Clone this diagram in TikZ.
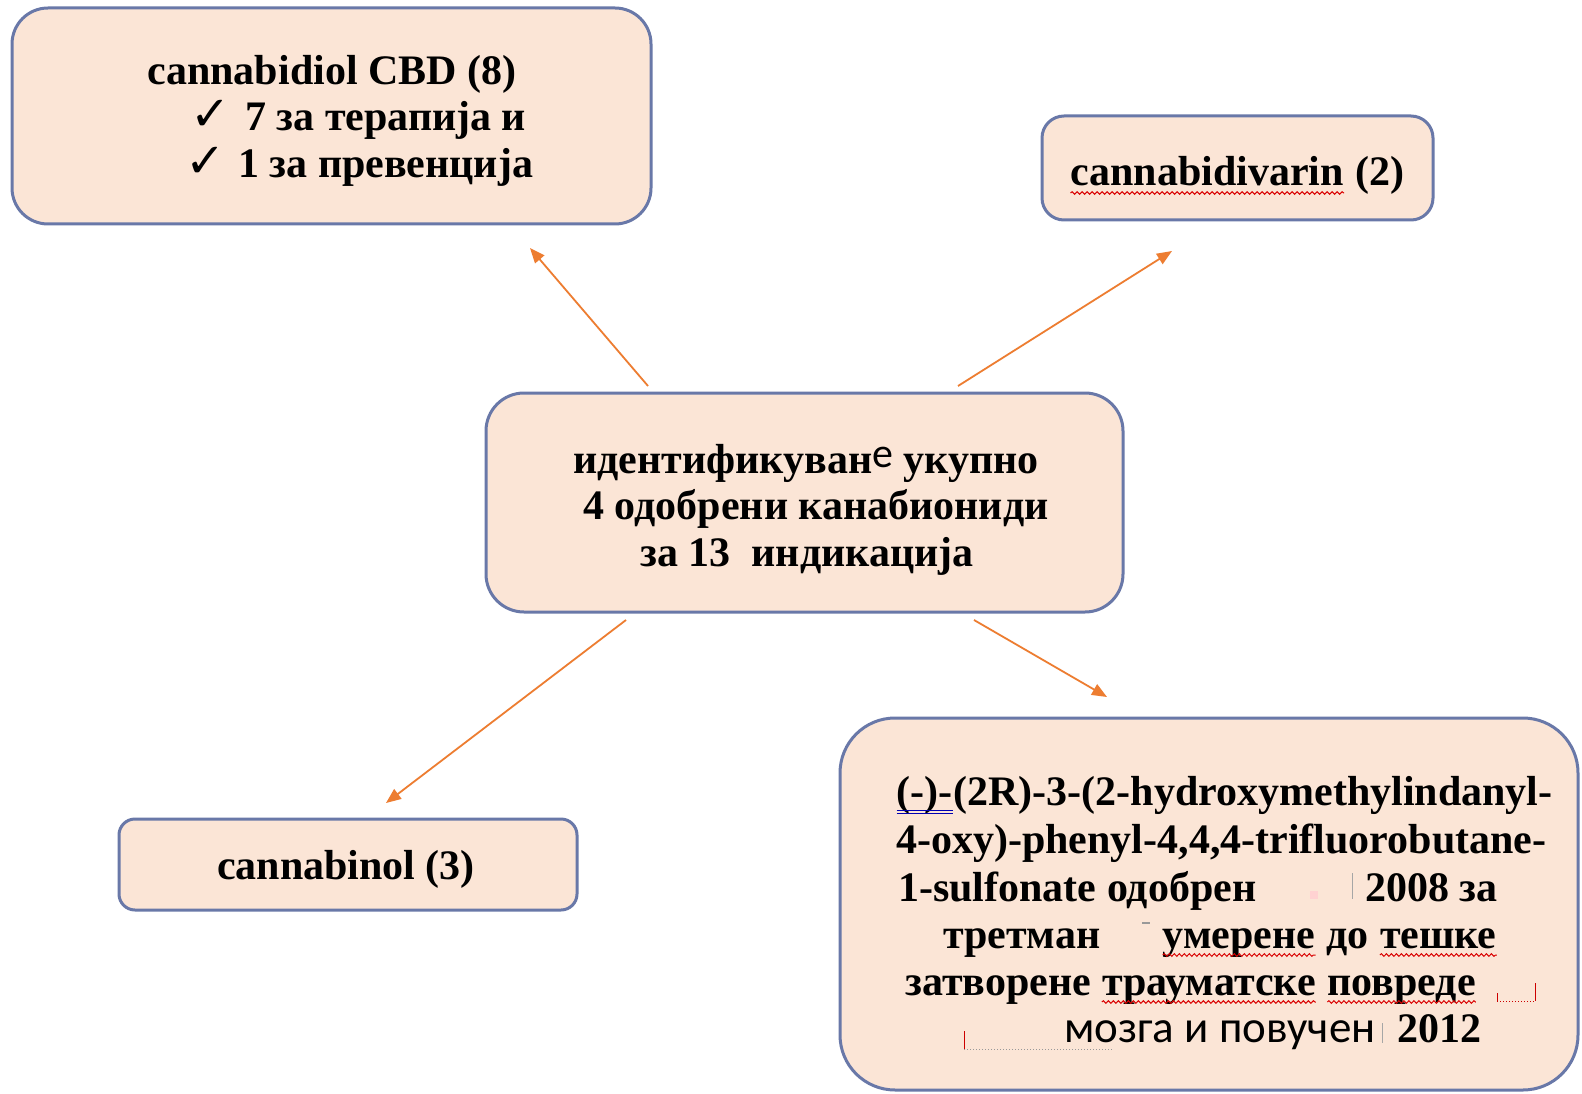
\documentclass[tikz,border=0pt]{standalone}
\usepackage{fontspec}
\setmainfont{Liberation Serif}
\newfontfamily\cfont{Carlito}
\newfontfamily\dfont{DejaVu Sans}
\usetikzlibrary{arrows.meta,decorations.pathmorphing}
\newcommand\spellred[1]{\tikz[baseline=(w.base)]{\node[inner sep=0pt,anchor=base](w){#1};\draw[red!85!black,line width=1pt,decorate,decoration={snake,segment length=5pt,amplitude=1.3pt}] ([yshift=-7pt]w.base west) -- ([yshift=-7pt]w.base east);}}
\newcommand\spellblue[1]{\tikz[baseline=(w.base)]{\node[inner sep=0pt,anchor=base](w){#1};\draw[blue!70!black,line width=1pt] ([yshift=-5pt]w.base west) -- ([yshift=-5pt]w.base east) ([yshift=-8pt]w.base west) -- ([yshift=-8pt]w.base east);}}
\definecolor{boxfill}{RGB}{251,229,214}
\definecolor{boxline}{RGB}{105,120,168}
\definecolor{arr}{RGB}{237,125,49}
\tikzset{
  cbox/.style={draw=boxline, fill=boxfill, line width=3pt},
  txt/.style={font=\bfseries\fontsize{42}{47}\selectfont, inner sep=0pt, text=black},
  sanstxt/.style={font=\cfont\fontsize{45}{47}\selectfont, inner sep=0pt, text=black},
  chk/.style={font=\dfont\fontsize{48}{48}\selectfont, inner sep=0pt, text=black},
  conn/.style={draw=arr, line width=1.8pt, -{Triangle[length=15pt,width=12pt]}},
  spellmark/.style={red!80!black, line width=1pt, dotted}
}
\begin{document}
\begin{tikzpicture}[x=1pt,y=-1pt]
\useasboundingbox (0,0) rectangle (1582,1094);
\fill[white] (0,0) rectangle (1582,1094);
% boxes
\draw[cbox, rounded corners=36pt] (12,8) rectangle (651,224);
\node (b1) at (331.5,116) {};
\draw[cbox, rounded corners=22pt] (1042,116) rectangle (1433,220);
\node (b2) at (1237.5,168) {};
\draw[cbox, rounded corners=38pt] (486,393) rectangle (1123,612);
\node (b3) at (804.5,502.5) {};
\draw[cbox, rounded corners=16pt] (119,819) rectangle (577,910);
\node (b4) at (348,864.5) {};
\draw[cbox, rounded corners=55pt] (840,718) rectangle (1578,1090);
\node (b5) at (1209,904) {};
% box 1 texts
\node[txt, anchor=base] (t1a) at (332,85) {cannabidiol CBD (8)};
\node[chk, anchor=base west] (c1) at (190,131) {✓};
\node[txt, anchor=base west] (t1b) at (245,131) {7 за терапија и};
\node[chk, anchor=base west] (c2) at (185,178) {✓};
\node[txt, anchor=base west] (t1c) at (238,178) {1 за превенција};
% box 2
\node[txt, anchor=base] (t2) at (1237,186) {\spellred{cannabidivarin} (2)};
% box 3
\node[txt, anchor=base] (t3a) at (806,473) {идентификуван{\cfont\mdseries\raisebox{6pt}{е}} укупно};
\node[txt, anchor=base] (t3b) at (816,519) {4 одобрени канабиониди};
\node[txt, anchor=base] (t3c) at (807,566) {за 13\ \ индикација};
% box 4
\node[txt, anchor=base] (t4) at (346,879) {cannabinol (3)};
% box 5
\node[txt, anchor=base west] (t5a) at (896,805) {\spellblue{(-)-}(2R)-3-(2-hydroxymethylindanyl-};
\node[txt, anchor=base west] (t5b) at (896,853) {4-oxy)-phenyl-4,4,4-trifluorobutane-};
\node[txt, anchor=base west] (t5c) at (898,901) {1-sulfonate одобрен};
\node[txt, anchor=base west] (t5d) at (1365,901) {2008 за};
\node[txt, anchor=base west] (t5e) at (943,948) {третман};
\node[txt, anchor=base west] (t5f) at (1162,948) {\spellred{умерене} до \spellred{тешке}};
\node[txt, anchor=base west] (t5g) at (905,995) {затворене \spellred{трауматске} \spellred{повреде}};
\node[sanstxt, anchor=base west] (t5h) at (1064,1042) {мозга и повучен};
\node[txt, anchor=base west] (t5i) at (1397,1042) {2012};
% small spelling marks
\fill[pink!70] (1310,891) rectangle (1318,899);
\draw[gray!70, line width=1pt] (1352,873) -- (1352,899);
\draw[gray!80, line width=1.5pt] (1142,923) -- (1150,923);
\draw[spellmark] (1497,1001) -- (1535,1001);
\draw[red!80!black, line width=1pt] (1497,993) -- (1497,1001) (1535,983) -- (1535,1001);
\draw[red!80!black, line width=1pt] (964,1031) -- (964,1049);
\draw[spellmark, gray!80] (964,1049) -- (1112,1049);
\draw[gray!70, line width=1pt] (1382,1023) -- (1382,1043);
% arrow end points
\coordinate (s1) at (648,386); \coordinate (e1) at (530,248);
\coordinate (s2) at (958,386); \coordinate (e2) at (1172,251);
\coordinate (s3) at (626,620); \coordinate (e3) at (386,803);
\coordinate (s4) at (974,620); \coordinate (e4) at (1107,697);
\draw[conn] (s1) -- (e1);
\draw[conn] (s2) -- (e2);
\draw[conn] (s3) -- (e3);
\draw[conn] (s4) -- (e4);
\end{tikzpicture}
\end{document}
